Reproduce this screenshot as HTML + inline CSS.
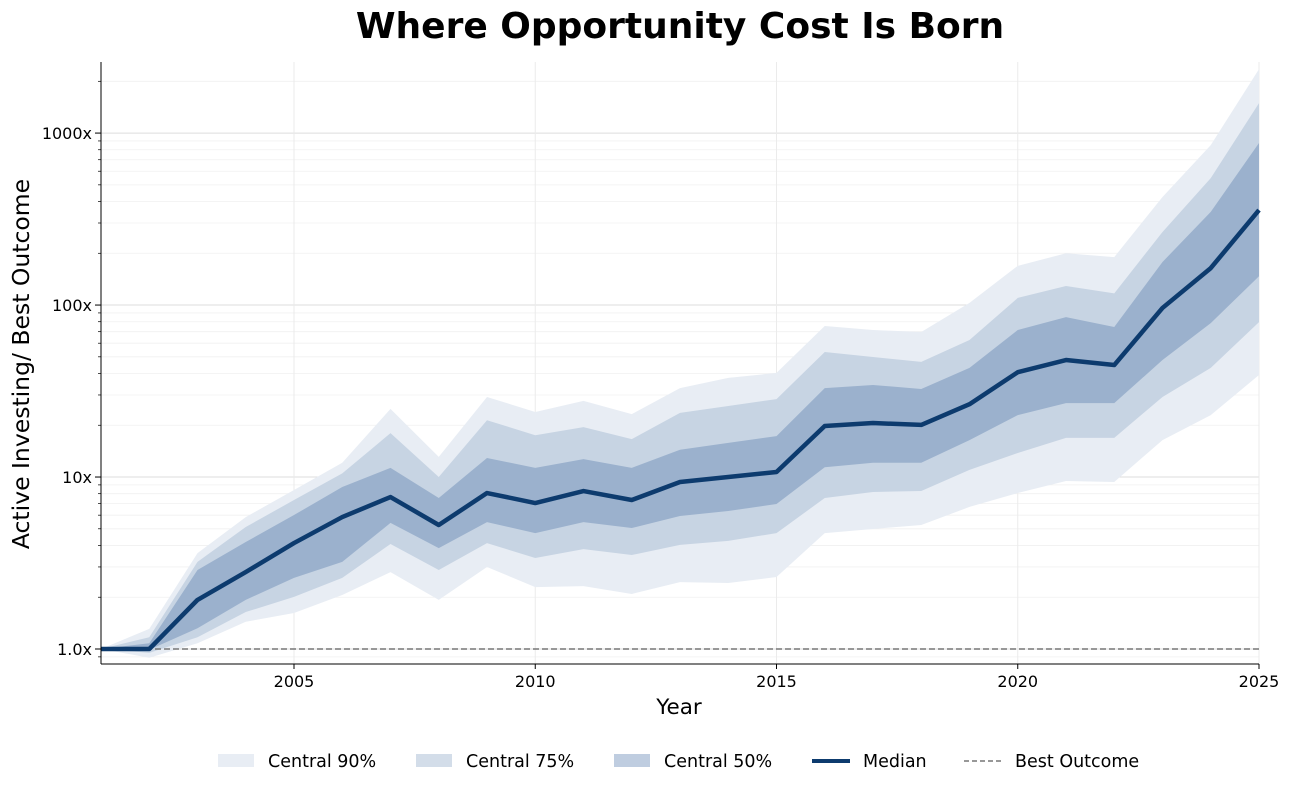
<!DOCTYPE html>
<html><head><meta charset="utf-8"><style>
html,body{margin:0;padding:0;background:#fff;}
svg text{font-family:"DejaVu Sans","Liberation Sans",sans-serif;}
</style></head><body>
<svg id="chart" width="1289" height="788" viewBox="0 0 1289 788" xmlns="http://www.w3.org/2000/svg">
<text x="680" y="38" text-anchor="middle" font-size="36" font-weight="bold" fill="#000">Where Opportunity Cost Is Born</text>
<g id="grid"></g>
<g id="bands"></g>
<g id="lines"></g>
<g id="axes"></g>
<text x="679" y="714" text-anchor="middle" font-size="21.5" fill="#000">Year</text>
<text transform="translate(29,364) rotate(-90)" text-anchor="middle" font-size="23.5" fill="#000">Active Investing/ Best Outcome</text>
<g id="legend">
  <g><rect x="218" y="754" width="36" height="13" fill="#e8edf4"/><text x="268" y="767" font-size="17.5">Central 90%</text></g>
  <g><rect x="416" y="754" width="36" height="13" fill="#d3dde9"/><text x="466" y="767" font-size="17.5">Central 75%</text></g>
  <g><rect x="614" y="754" width="36" height="13" fill="#bfcde0"/><text x="664" y="767" font-size="17.5">Central 50%</text></g>
  <g><line x1="812" y1="761" x2="850" y2="761" stroke="#0d3b6e" stroke-width="4"/><text x="863" y="767" font-size="17.5">Median</text></g>
  <g><line x1="964" y1="761" x2="1002" y2="761" stroke="#777" stroke-width="1.5" stroke-dasharray="5,3"/><text x="1015" y="767" font-size="17.5">Best Outcome</text></g>
</g>
</svg>
<script>
const years=[2001,2002,2003,2004,2005,2006,2007,2008,2009,2010,2011,2012,2013,2014,2015,2016,2017,2018,2019,2020,2021,2022,2023,2024,2025];
const median=[1,1,1.93,2.80,4.13,5.85,7.65,5.26,8.07,7.06,8.29,7.35,9.35,10,10.7,19.8,20.6,20.1,26.5,40.7,47.9,44.8,96.2,164,357];
const p50Upper=[1,1.08,2.88,4.19,6.01,8.75,11.3,7.55,12.9,11.3,12.7,11.3,14.4,15.8,17.3,32.9,34.3,32.5,43.1,71.6,85.1,74.5,178,348,875];
const p50Lower=[1,0.99,1.32,1.93,2.59,3.21,5.41,3.86,5.47,4.72,5.47,5.05,5.93,6.34,6.97,11.4,12.1,12.1,16.4,22.9,26.9,26.9,47.9,78.5,147];
const p75Upper=[1,1.17,3.21,5.12,7.35,10.5,18.0,10,21.4,17.5,19.5,16.6,23.6,25.9,28.4,53.3,49.9,46.7,62.6,110,129,117,266,547,1493];
const p75Lower=[1,0.95,1.17,1.64,2.01,2.59,4.08,2.88,4.13,3.38,3.81,3.52,4.03,4.25,4.72,7.55,8.18,8.30,11.0,13.8,16.9,16.9,29.2,43.1,79.6];
const p90Upper=[1,1.31,3.61,5.85,8.40,12.1,24.9,13.1,29.2,23.9,27.7,23.2,32.9,37.7,40.3,75.5,71.6,69.7,103,169,200,190,425,851,2355];
const p90Lower=[1,0.89,1.08,1.44,1.62,2.06,2.80,1.93,3.00,2.29,2.32,2.09,2.45,2.42,2.62,4.72,4.99,5.26,6.70,8.07,9.48,9.35,16.4,22.9,39.2];
const bestOutcome=1;
const xTicks=[2005,2010,2015,2020,2025];
const yTicks=[1,10,100,1000];
const yTickLabels=["1.0x","10x","100x","1000x"];

const L=101,R=1259,T=62,B=664;
const xMin=2001,xMax=2025,yMin=0.818,yMax=2590;
const NS="http://www.w3.org/2000/svg";
function xs(v){return L+(v-xMin)/(xMax-xMin)*(R-L);}
function ys(v){return B-(Math.log10(v)-Math.log10(yMin))/(Math.log10(yMax)-Math.log10(yMin))*(B-T);}
function mk(tag,attrs,parent){const e=document.createElementNS(NS,tag);for(const k in attrs)e.setAttribute(k,attrs[k]);parent.appendChild(e);return e;}
const grid=document.getElementById('grid'),bands=document.getElementById('bands'),lines=document.getElementById('lines'),axes=document.getElementById('axes');

for(let p=-1;p<=3;p++){for(let m=1;m<10;m++){const v=m*Math.pow(10,p);if(v<yMin||v>yMax)continue;
  const major=(m===1);
  const g=mk('line',{x1:L,x2:R,y1:ys(v),y2:ys(v),stroke:major?'#dddddd':'#f0f0f0','stroke-width':major?1:0.8},grid);
  
  
  const t=mk('line',{x1:L-(major?6:3),x2:L,y1:ys(v),y2:ys(v),stroke:'#000','stroke-width':major?1:0.7},axes);
  
  
}}
xTicks.forEach(v=>{
  const g=mk('line',{x1:xs(v),x2:xs(v),y1:T,y2:B,stroke:'#ebebeb','stroke-width':1},grid);
  
  
  const t=mk('line',{x1:xs(v),x2:xs(v),y1:B,y2:B+5,stroke:'#000'},axes);
  
  
  const tx=mk('text',{x:xs(v),y:B+23,'text-anchor':'middle','font-size':16,fill:'#000'},axes);
  tx.textContent=v;
  
  
});
yTicks.forEach((v,i)=>{
  const tx=mk('text',{x:L-9,y:ys(v)+6,'text-anchor':'end','font-size':16,fill:'#000'},axes);
  tx.textContent=yTickLabels[i];
  
  
});
function band(up,lo,color,name){
  let d='M'+years.map((y,i)=>xs(y)+','+ys(up[i])).join('L');
  d+='L'+years.map((y,i)=>xs(y)+','+ys(lo[i])).reverse().join('L')+'Z';
  const p=mk('path',{d:d,fill:color},bands);
  
  
}
band(p90Upper,p90Lower,'#e8edf4','band-central-90');
band(p75Upper,p75Lower,'#c7d4e3','band-central-75');
band(p50Upper,p50Lower,'#9bb1cd','band-central-50');
const best=mk('line',{x1:L,x2:R,y1:ys(bestOutcome),y2:ys(bestOutcome),stroke:'#777','stroke-width':1.5,'stroke-dasharray':'6,3'},lines);


const med=mk('polyline',{points:years.map((y,i)=>xs(y)+','+ys(median[i])).join(' '),fill:'none',stroke:'#0d3b6e','stroke-width':4.5,'stroke-linejoin':'round'},lines);


const ay=mk('line',{x1:L,x2:L,y1:T,y2:B,stroke:'#000','stroke-width':1},axes);


const ax=mk('line',{x1:L,x2:R,y1:B,y2:B,stroke:'#000','stroke-width':1},axes);


</script>
</body></html>
